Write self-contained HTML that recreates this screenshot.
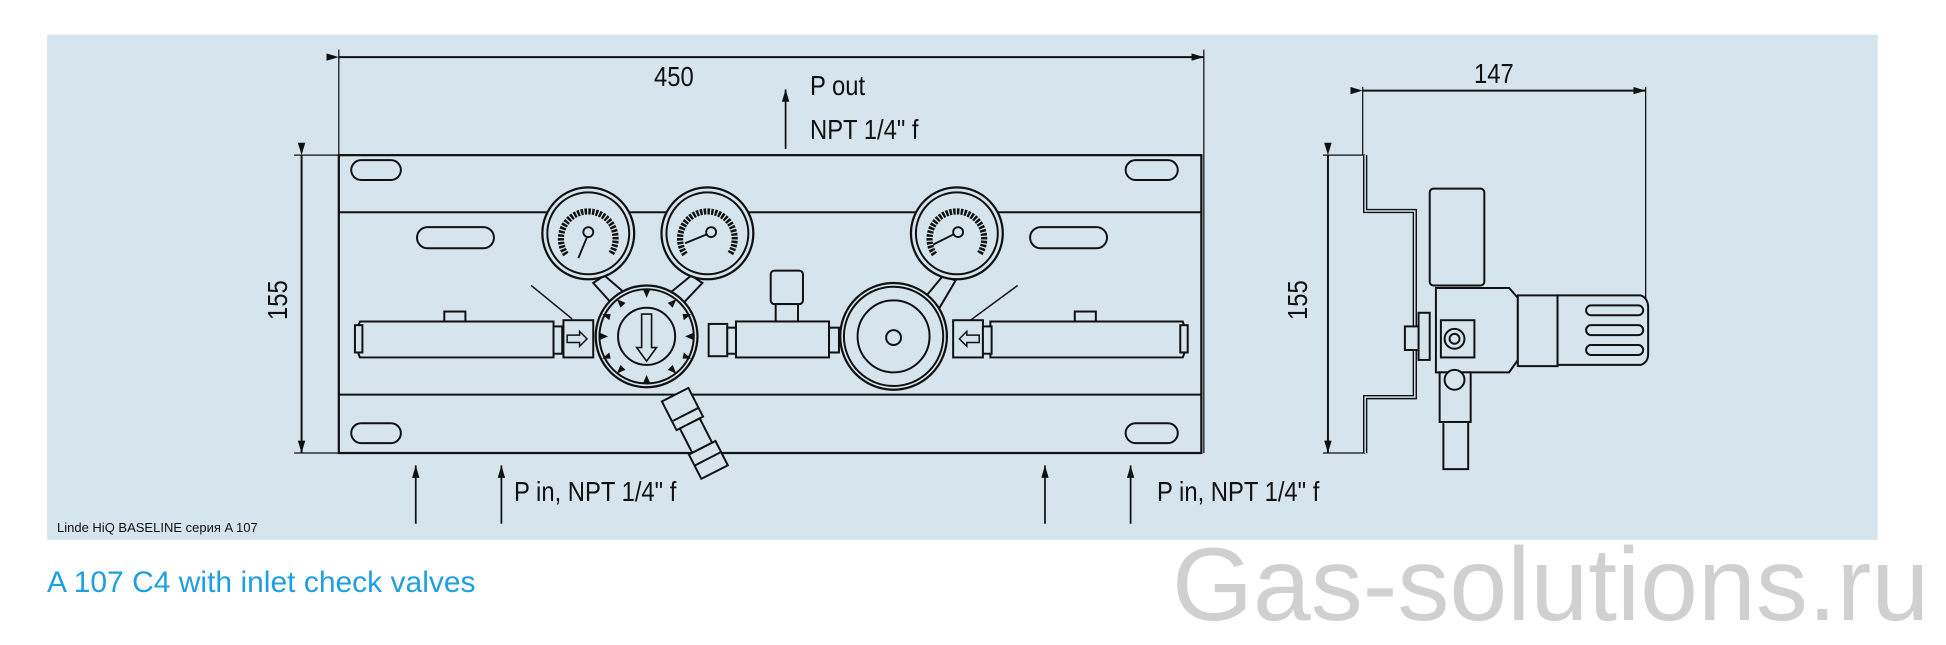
<!DOCTYPE html>
<html><head><meta charset="utf-8"><style>
html,body{margin:0;padding:0;background:#fff;width:1946px;height:630px;overflow:hidden}
svg{display:block}
text{font-family:"Liberation Sans",sans-serif}
</style></head><body>
<svg width="1946" height="630" viewBox="0 0 1568 507.6" xmlns="http://www.w3.org/2000/svg">
<defs>
<marker id="ah" markerWidth="10" markerHeight="6" refX="10" refY="3" orient="auto" markerUnits="userSpaceOnUse"><path d="M0,0 L10,3 L0,6 z" fill="#111"/></marker>
</defs>
<rect x="0" y="0" width="1568" height="508" fill="#fff"/>
<rect x="38" y="28" width="1475" height="407" fill="#d6e4ee"/>
<g stroke="#111" fill="none" stroke-width="1.6">
<line x1="273" y1="46" x2="970" y2="46" marker-end="url(#ah)" marker-start="url(#ah)"/>
<line x1="273" y1="40" x2="273" y2="365" stroke-width="1"/>
<line x1="970" y1="40" x2="970" y2="365" stroke-width="1"/>
<line x1="243" y1="125" x2="243" y2="365" marker-end="url(#ah)" marker-start="url(#ah)"/>
<line x1="237" y1="125" x2="273" y2="125" stroke-width="1"/>
<line x1="237" y1="365" x2="273" y2="365" stroke-width="1"/>
<rect x="273" y="125" width="695" height="240" stroke-width="1.8"/>
<line x1="273" y1="171" x2="968" y2="171"/>
<line x1="273" y1="318" x2="968" y2="318"/>
<rect x="283" y="129" width="40" height="16" rx="8"/>
<rect x="907" y="129" width="42" height="16" rx="8"/>
<rect x="283" y="341" width="40" height="16" rx="8"/>
<rect x="907" y="341" width="42" height="16" rx="8"/>
<rect x="336" y="183" width="62" height="17" rx="8.5"/>
<rect x="830" y="183" width="62" height="17" rx="8.5"/>
<line x1="633" y1="120" x2="633" y2="72" marker-end="url(#ah)" stroke-width="1.4"/>
<line x1="335" y1="422" x2="335" y2="375" marker-end="url(#ah)" stroke-width="1.4"/>
<line x1="404" y1="422" x2="404" y2="375" marker-end="url(#ah)" stroke-width="1.4"/>
<line x1="842" y1="422" x2="842" y2="375" marker-end="url(#ah)" stroke-width="1.4"/>
<line x1="911" y1="422" x2="911" y2="375" marker-end="url(#ah)" stroke-width="1.4"/>
<g fill="#d6e4ee">
<path d="M290,259 H446 V288 H290 Q284,274 290,259z"/>
<rect x="286" y="262" width="6" height="22"/>
<rect x="358" y="251" width="17" height="8"/>
<path d="M798,259 H953 Q959,274 953,288 H798z"/>
<rect x="951" y="262" width="6" height="22"/>
<rect x="866" y="251" width="17" height="8"/>
<rect x="593" y="259" width="75" height="29"/>
<rect x="621" y="218" width="26" height="27" rx="3"/>
<rect x="625" y="245" width="18" height="14"/>
<rect x="446" y="263" width="7" height="22"/>
<rect x="454" y="258" width="24" height="30"/>
<rect x="768" y="258" width="24" height="30"/>
<rect x="792" y="263" width="7" height="22"/>
<rect x="571" y="261" width="15" height="26"/>
<rect x="586" y="264" width="7" height="21"/>
<rect x="668" y="264" width="8" height="20"/>
<g transform="translate(544,318) rotate(-27)">
<rect x="-12" y="0" width="24" height="26"/>
<rect x="-9" y="26" width="18" height="22"/>
<rect x="-12" y="48" width="24" height="22"/>
<line x1="-12" y1="18" x2="12" y2="18"/>
<line x1="-12" y1="58" x2="12" y2="58"/>
</g>
<path d="M487,222 L508,240 L496,248 L478,228z"/>
<path d="M557,222 L535,240 L547,248 L566,228z"/>
<path d="M760,222 L745,240 L757,248 L770,226z"/>
<circle cx="521" cy="271" r="41" stroke-width="1.8"/>
<circle cx="521" cy="271" r="38"/>
<circle cx="521" cy="271" r="23"/>
<circle cx="720" cy="271" r="43" stroke-width="1.8"/>
<circle cx="720" cy="271" r="40"/>
<circle cx="720" cy="271" r="29"/>
<circle cx="720" cy="272" r="6"/>
<circle cx="474" cy="188" r="37" stroke-width="1.8"/>
<circle cx="474" cy="188" r="33"/>
<circle cx="570" cy="188" r="37" stroke-width="1.8"/>
<circle cx="570" cy="188" r="33"/>
<circle cx="771" cy="188" r="37" stroke-width="1.8"/>
<circle cx="771" cy="188" r="33"/>
</g>
</g>
<g fill="#111" stroke="none">
<path d="M518,233 l3,7 l3,-7z M518,309 l3,-7 l3,7z M483,268 l7,3 l-7,3z M559,268 l-7,3 l7,3z
M497,241 l3,7 l4,-4z M545,241 l-3,7 l-4,-4z M497,301 l3,-7 l4,4z M545,301 l-3,-7 l-4,4z
M485,253 l6,5 l1,-5z M557,253 l-6,5 l-1,-5z M485,289 l6,-5 l1,5z M557,289 l-6,-5 l-1,5z"/>
</g>
<path d="M517,253 V280 H513 L521,291 L529,280 H525 V253z" fill="none" stroke="#111" stroke-width="1.3"/>
<path d="M457,270 h10 v-3 l6,6 l-6,6 v-3 h-10z" fill="none" stroke="#111" stroke-width="1.2"/>
<path d="M789,270 h-10 v-3 l-6,6 l6,6 v-3 h10z" fill="none" stroke="#111" stroke-width="1.2"/>
<line x1="428" y1="230" x2="461" y2="257" stroke="#111" stroke-width="1.2"/>
<line x1="820" y1="230" x2="782" y2="258" stroke="#111" stroke-width="1.2"/>
<g stroke="#111" fill="none">
<path d="M456,205 A22,22 0 1 1 492,205" stroke-width="5" stroke-dasharray="2 1"/>
<path d="M552,205 A22,22 0 1 1 588,205" stroke-width="5" stroke-dasharray="2 1"/>
<path d="M753,205 A22,22 0 1 1 789,205" stroke-width="5" stroke-dasharray="2 1"/>
<circle cx="474" cy="187" r="4" stroke-width="1.5"/><line x1="473" y1="191" x2="466" y2="208" stroke-width="1.5"/>
<circle cx="573" cy="187" r="4" stroke-width="1.5"/><line x1="569" y1="189" x2="552" y2="196" stroke-width="1.5"/>
<circle cx="772" cy="187" r="4" stroke-width="1.5"/><line x1="768" y1="189" x2="752" y2="197" stroke-width="1.5"/>
</g>
<g stroke="#111" fill="none" stroke-width="1.6">
<line x1="1098" y1="73" x2="1326" y2="73" marker-end="url(#ah)" marker-start="url(#ah)"/>
<line x1="1098" y1="70" x2="1098" y2="125" stroke-width="1"/>
<line x1="1326" y1="70" x2="1326" y2="258" stroke-width="1"/>
<line x1="1070" y1="125" x2="1070" y2="365" marker-end="url(#ah)" marker-start="url(#ah)"/>
<line x1="1066" y1="125" x2="1100" y2="125" stroke-width="1"/>
<line x1="1066" y1="365" x2="1100" y2="365" stroke-width="1"/>
<path d="M1100,125 V170 H1140 V320 H1100 V365" stroke-width="3.5"/>
<path d="M1100,125 V170 H1140 V320 H1100 V365" stroke="#d6e4ee" stroke-width="1.2"/>
<g fill="#d6e4ee">
<rect x="1152" y="152" width="44" height="78" rx="3"/>
<rect x="1143" y="252" width="9" height="38"/>
<rect x="1132" y="263" width="11" height="19"/>
<path d="M1157,232 H1216 L1223,240 V290 L1216,300 H1157z"/>
<rect x="1223" y="238" width="32" height="57"/>
<path d="M1255,238 H1322 Q1328,240 1328,248 V285 Q1328,292 1322,294 H1255z"/>
<rect x="1161" y="258" width="27" height="30"/>
<circle cx="1172" cy="273" r="8"/>
<circle cx="1172" cy="273" r="4"/>
<rect x="1160" y="300" width="25" height="40"/>
<rect x="1163" y="340" width="20" height="38"/>
<circle cx="1172" cy="306" r="8"/>
</g>
<rect x="1278" y="246" width="46" height="8" rx="4"/>
<rect x="1278" y="262" width="46" height="8" rx="4"/>
<rect x="1278" y="278" width="46" height="8" rx="4"/>
</g>
</svg>
<div style="position:absolute;left:0;top:0;width:1946px;height:630px;pointer-events:none">
<div style="position:absolute;left:654px;top:61px;font:28px 'Liberation Sans',sans-serif;color:#111;transform:scaleX(0.85);transform-origin:0 0">450</div>
<div style="position:absolute;left:810px;top:70px;font:28px 'Liberation Sans',sans-serif;color:#111;transform:scaleX(0.85);transform-origin:0 0">P out</div>
<div style="position:absolute;left:810px;top:114px;font:28px 'Liberation Sans',sans-serif;color:#111;transform:scaleX(0.85);transform-origin:0 0">NPT 1/4" f</div>
<div style="position:absolute;left:514px;top:476px;font:28px 'Liberation Sans',sans-serif;color:#111;transform:scaleX(0.85);transform-origin:0 0;white-space:nowrap">P in, NPT 1/4" f</div>
<div style="position:absolute;left:1157px;top:476px;font:28px 'Liberation Sans',sans-serif;color:#111;transform:scaleX(0.85);transform-origin:0 0;white-space:nowrap">P in, NPT 1/4" f</div>
<div style="position:absolute;left:1474px;top:58px;font:28px 'Liberation Sans',sans-serif;color:#111;transform:scaleX(0.85);transform-origin:0 0">147</div>
<div style="position:absolute;left:262px;top:320px;font:28px 'Liberation Sans',sans-serif;color:#111;transform:rotate(-90deg) scaleX(0.85);transform-origin:0 0">155</div>
<div style="position:absolute;left:1282px;top:320px;font:28px 'Liberation Sans',sans-serif;color:#111;transform:rotate(-90deg) scaleX(0.85);transform-origin:0 0">155</div>
<div style="position:absolute;left:57px;top:520px;font:13px 'Liberation Sans',sans-serif;color:#111;white-space:nowrap">Linde HiQ BASELINE серия A 107</div>
<div style="position:absolute;left:47px;top:566px;font:30px 'Liberation Sans',sans-serif;color:#1f9ee0;white-space:nowrap">A 107 C4 with inlet check valves</div>
<div style="position:absolute;left:1172px;top:526px;font:104px 'Liberation Sans',sans-serif;color:#d0d0d0;white-space:nowrap">Gas-solutions.ru</div>
</div>
</body></html>
